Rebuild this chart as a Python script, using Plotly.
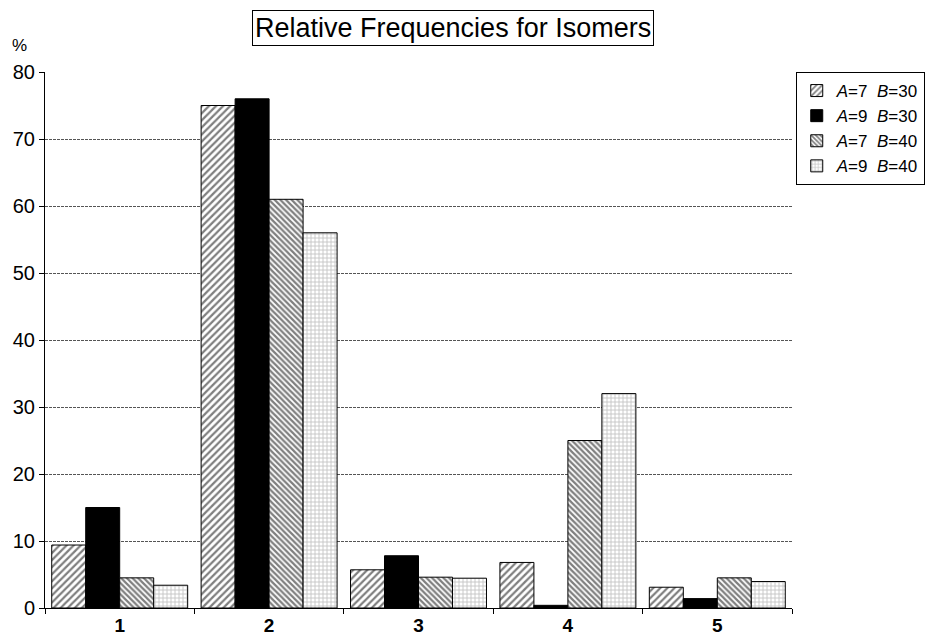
import plotly.graph_objects as go

categories = ["1", "2", "3", "4", "5"]
series_names = ["<i>A</i>=7  <i>B</i>=30", "<i>A</i>=9  <i>B</i>=30",
                "<i>A</i>=7  <i>B</i>=40", "<i>A</i>=9  <i>B</i>=40"]
a7_b30 = [9.4, 75.0, 5.7, 6.8, 3.1]
a9_b30 = [15.0, 76.0, 7.8, 0.4, 1.4]
a7_b40 = [4.5, 61.0, 4.6, 25.0, 4.5]
a9_b40 = [3.4, 56.0, 4.45, 32.0, 3.95]

values = [a7_b30, a9_b30, a7_b40, a9_b40]
colors = ["white", "black", "white", "white"]
patterns = [
    dict(shape="/", fgcolor="black", bgcolor="white", size=5, solidity=0.45),
    dict(shape="", fgcolor="black", bgcolor="black"),
    dict(shape="\\", fgcolor="black", bgcolor="white", size=4, solidity=0.55),
    dict(shape="+", fgcolor="#8a8a8a", bgcolor="white", size=4, solidity=0.4),
]

FONT = "Liberation Sans, Arial, sans-serif"

fig = go.Figure()
for name, vals, col, pat in zip(series_names, values, colors, patterns):
    fig.add_trace(go.Bar(
        x=categories, y=vals, name=name,
        marker=dict(color=col, pattern=pat, line=dict(color="black", width=1)),
    ))

fig.update_layout(
    width=938, height=628,
    paper_bgcolor="white", plot_bgcolor="white",
    margin=dict(l=37, r=154, t=64, b=28),
    barmode="group", bargap=0.09, bargroupgap=0,
    font=dict(family=FONT, color="black", size=19),
    showlegend=True,
    legend=dict(x=1.005, xanchor="left", y=1.0, yanchor="top",
                bordercolor="black", borderwidth=1, bgcolor="white",
                font=dict(size=17), itemwidth=30, tracegroupgap=0),
    xaxis=dict(type="category", showline=True, linecolor="black", linewidth=1,
               ticks="outside", ticklen=5, tickcolor="black", tickson="boundaries",
               tickfont=dict(size=19, family=FONT), automargin=False,
               showgrid=False),
    yaxis=dict(range=[0, 80], dtick=10, showline=True, linecolor="black", linewidth=1,
               ticks="outside", ticklen=5, tickcolor="black", automargin=False,
               showgrid=True, gridcolor="#555", griddash="3px,1px", gridwidth=1,
               zeroline=False, tickfont=dict(size=20)),
    annotations=[
        dict(text="Relative Frequencies for Isomers", xref="paper", yref="paper",
             x=0.546, y=1.0825, xanchor="center", yanchor="middle", showarrow=False,
             font=dict(size=27), bordercolor="black", borderwidth=1, borderpad=2,
             bgcolor="white"),
        dict(text="%", xref="paper", yref="paper", x=-0.034, y=1.05,
             xanchor="center", yanchor="middle", showarrow=False, font=dict(size=17)),
    ],
)
fig.update_xaxes(ticktext=["<b>%s</b>" % c for c in categories], tickvals=categories)

fig.write_html("out.html")
